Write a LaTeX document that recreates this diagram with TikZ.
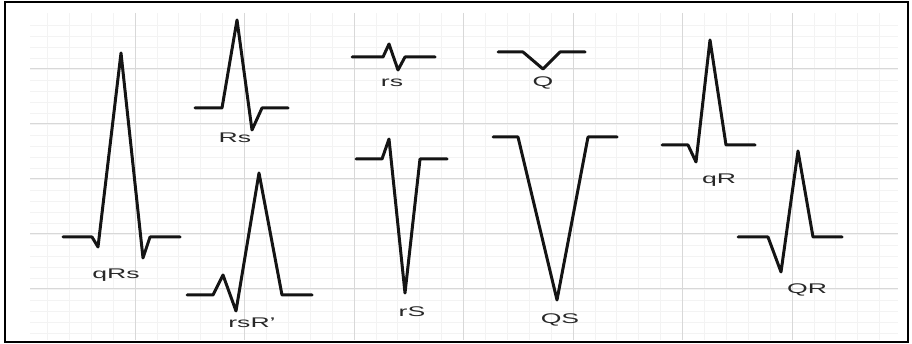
\documentclass[tikz,border=0pt]{standalone}
\usepackage{fontspec}
\setsansfont{Liberation Sans}
\usepackage{graphicx}
\usepackage{xcolor}
\definecolor{ecgline}{RGB}{20,20,20}
\definecolor{labeltext}{RGB}{40,40,40}
\definecolor{majorgrid}{RGB}{216,216,216}
\definecolor{minorgrid}{RGB}{243,243,243}
\newcommand{\wavelabel}[1]{\scalebox{1.9}[1]{#1}}
\tikzset{
  wave/.style={draw=ecgline, line width=3pt, line join=round, line cap=round},
  wavename/.style={font=\sffamily\fontsize{14}{14}\selectfont, text=labeltext, inner sep=0pt},
  majorline/.style={draw=majorgrid, line width=1pt},
  minorline/.style={draw=minorgrid, line width=0.8pt}
}

\begin{document}
\begin{tikzpicture}[x=1pt,y=-1pt]
\useasboundingbox (0,0) rectangle (912,344);
% grid paper
\begin{scope}
  \clip (30,13) rectangle (898,340);
  \foreach \x in {47.4,69.3,...,898} \draw[minorline] (\x,13) -- (\x,340);
  \foreach \y in {25,36,...,340} \draw[minorline] (30,\y) -- (898,\y);
  \foreach \x in {135,244.5,...,900} \draw[majorline] (\x,13) -- (\x,340);
  \foreach \y in {69,124,...,330} \draw[majorline] (30,\y) -- (898,\y);
\end{scope}
\draw[line width=2pt] (5,2) rectangle (908,342);

% complexes
\draw[wave] (63,237) -- (92,237) -- (98,247) -- (121,53) -- (143,258) -- (150,237) -- (180,237);
\draw[wave] (195,108) -- (222,108) -- (237,20) -- (252,130) -- (262,108) -- (288,108);
\draw[wave] (187,295) -- (213,295) -- (223,275) -- (236,311) -- (259,173) -- (282,295) -- (312,295);
\draw[wave] (352,57) -- (383,57) -- (389,44) -- (398,70) -- (405,57) -- (435,57);
\draw[wave] (498,52) -- (523,52) -- (543,69) -- (560,52) -- (585,52);
\draw[wave] (356,159) -- (382,159) -- (389,139) -- (405,293) -- (420,159) -- (447,159);
\draw[wave] (493,137) -- (518,137) -- (557,300) -- (588,137) -- (617,137);
\draw[wave] (662,145) -- (688,145) -- (696,162) -- (710,40) -- (726,145) -- (755,145);
\draw[wave] (738,237) -- (768,237) -- (781,272) -- (798,151) -- (813,237) -- (842,237);

% names
\node[wavename] (qRs) at (116,275) {\wavelabel{qRs}};
\node[wavename] (Rs) at (235,138) {\wavelabel{Rs}};
\node[wavename] (rsR) at (252,323) {\wavelabel{rsR'}};
\node[wavename] (rs) at (392,83) {\wavelabel{rs}};
\node[wavename] (Q) at (543,83) {\wavelabel{Q}};
\node[wavename] (rS) at (412,312) {\wavelabel{rS}};
\node[wavename] (QS) at (560,320) {\wavelabel{QS}};
\node[wavename] (qR) at (719,180) {\wavelabel{qR}};
\node[wavename] (QR) at (807,290) {\wavelabel{QR}};
\end{tikzpicture}
\end{document}
